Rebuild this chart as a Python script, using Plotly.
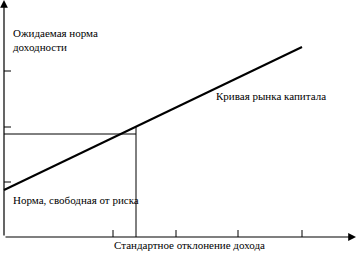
import plotly.graph_objects as go

# Data (x: standard deviation units, y: expected return units; origin at axes crossing)
cml_x = [0, 298]
cml_y = [47, 190]
x_ticks = [109, 172, 234, 298]
y_ticks = [55, 110, 166]
market_sigma = 132
market_return_h = 103
market_return_v = 110
x_max = 352
y_max = 237

labels = {
    "ylabel": "Ожидаемая норма<br>доходности",
    "rf": "Норма, свободная от риска",
    "cml": "Кривая рынка капитала",
    "xlabel": "Стандартное отклонение дохода",
}

FONT = dict(family="Liberation Serif", size=11, color="black")

fig = go.Figure()
fig.add_trace(go.Scatter(x=cml_x, y=cml_y, mode="lines",
                         line=dict(color="black", width=2), hoverinfo="skip"))

shapes = []
shapes.append(dict(type="line", xref="x", yref="y", x0=0, x1=market_sigma,
                   y0=market_return_h, y1=market_return_h, line=dict(color="black", width=1)))
shapes.append(dict(type="line", xref="x", yref="y", x0=market_sigma, x1=market_sigma,
                   y0=0, y1=market_return_v, line=dict(color="black", width=1)))
for t in x_ticks:
    shapes.append(dict(type="line", xref="x", yref="y", x0=t, x1=t, y0=0, y1=7,
                       line=dict(color="black", width=1)))
for t in y_ticks:
    shapes.append(dict(type="line", xref="x", yref="y", x0=0, x1=7, y0=t, y1=t,
                       line=dict(color="black", width=1)))

annotations = [
    dict(x=0, y=y_max, ax=0, ay=0, xref="x", yref="y", axref="x", ayref="y",
         showarrow=True, arrowhead=2, arrowsize=1.3, arrowwidth=1.2, arrowcolor="black", text=""),
    dict(x=x_max, y=0, ax=0, ay=0, xref="x", yref="y", axref="x", ayref="y",
         showarrow=True, arrowhead=2, arrowsize=1.3, arrowwidth=1.2, arrowcolor="black", text=""),
    dict(x=7, y=197, xref="x", yref="y", text=labels["ylabel"], showarrow=False,
         xanchor="left", yanchor="middle", align="left", font=FONT),
    dict(x=7, y=37, xref="x", yref="y", text=labels["rf"], showarrow=False,
         xanchor="left", yanchor="middle", font=FONT),
    dict(x=210, y=141, xref="x", yref="y", text=labels["cml"], showarrow=False,
         xanchor="left", yanchor="middle", font=FONT),
    dict(x=108, y=-8, xref="x", yref="y", text=labels["xlabel"], showarrow=False,
         xanchor="left", yanchor="middle", font=FONT),
]

fig.update_layout(
    width=358, height=254,
    margin=dict(l=0, r=0, t=0, b=0),
    paper_bgcolor="white", plot_bgcolor="white",
    showlegend=False,
    font=FONT,
    xaxis=dict(range=[-4, 354], visible=False, fixedrange=True),
    yaxis=dict(range=[-17, 237], visible=False, fixedrange=True),
    shapes=shapes, annotations=annotations,
)

fig.write_html("out.html", config={"displayModeBar": False})
